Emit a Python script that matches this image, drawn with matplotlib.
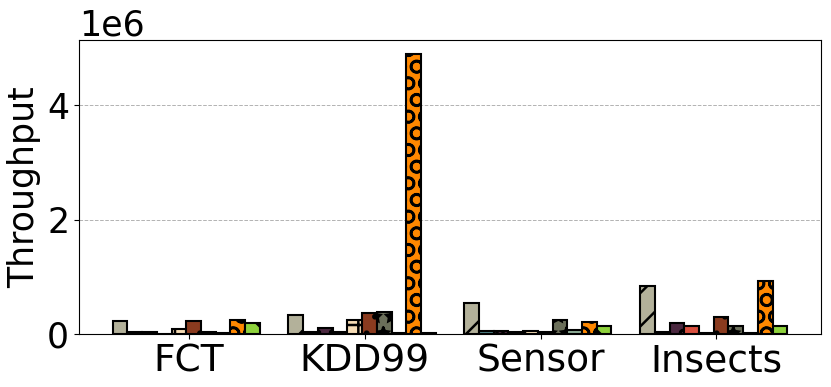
import numpy as np
import matplotlib
matplotlib.use("Agg")
import matplotlib.pyplot as plt

datasets = ["FCT", "KDD99", "Sensor", "Insects"]

# throughput per method, one list per bar series (values in 1e6)
s1 = [0.225, 0.335, 0.535, 0.845]
s2 = [0.03, 0.035, 0.058, 0.03]
s3 = [0.03, 0.10, 0.058, 0.19]
s4 = [0.005, 0.03, 0.03, 0.145]
s5 = [0.08, 0.245, 0.05, 0.01]
s6 = [0.225, 0.375, 0.04, 0.30]
s7 = [0.03, 0.39, 0.245, 0.145]
s8 = [0.01, 0.01, 0.07, 0.01]
s9 = [0.245, 4.90, 0.215, 0.925]
s10 = [0.187, 0.015, 0.14, 0.14]

series = [s1, s2, s3, s4, s5, s6, s7, s8, s9, s10]
colors = ["#b3b19a", "#4e7f85", "#4b2840", "#d9503f", "#f6dcb5",
          "#8a3b1f", "#6b6f5a", "#8fae98", "#ff8800", "#8ed23c"]
hatches = ["/", "", "o", "/", "+", ".", "*", "", "O", "\\"]


def main():
    plt.rcParams["hatch.linewidth"] = 1.8
    fig, ax = plt.subplots(figsize=(8.31, 3.87), dpi=100)
    fig.subplots_adjust(left=0.095, right=0.988, top=0.897, bottom=0.137)

    x = np.arange(len(datasets))
    w = 0.0837
    for j, vals in enumerate(series):
        ax.bar(x - 0.4335 + j * w, np.array(vals) * 1e6, width=w, align="edge",
               color=colors[j], edgecolor="black", linewidth=1.5,
               hatch=hatches[j], zorder=3)

    ax.set_xticks(x)
    ax.set_xticklabels(datasets, fontsize=27)
    ax.tick_params(axis="y", labelsize=25)
    ax.yaxis.get_offset_text().set_fontsize(25)
    ax.set_ylabel("Throughput", fontsize=25)
    ax.grid(axis="y", linestyle="--", color="gray", alpha=0.6, linewidth=0.7, zorder=0)
    ax.set_yticks([0, 2e6, 4e6])

    fig.savefig("out.png", dpi=100)


if __name__ == "__main__":
    main()
